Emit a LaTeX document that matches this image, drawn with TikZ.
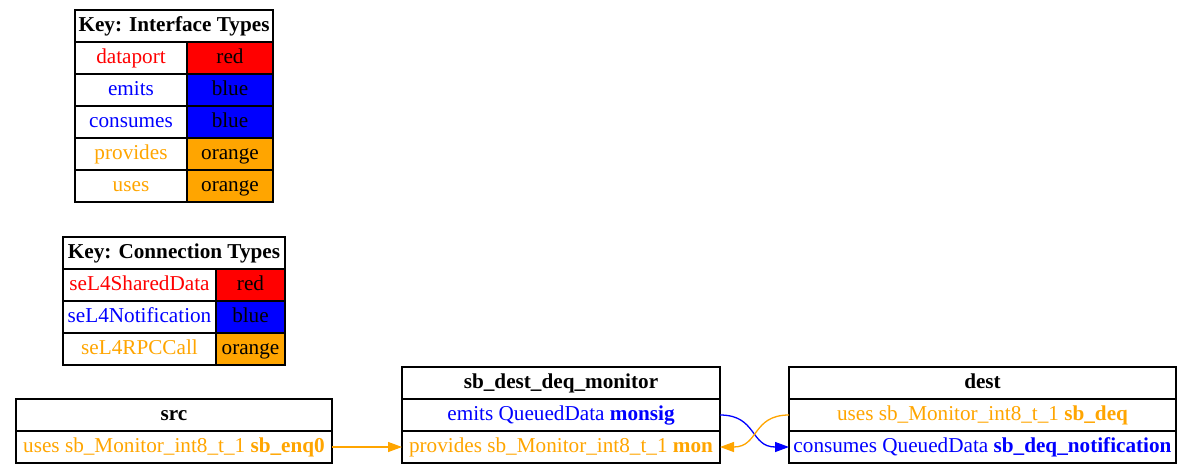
\documentclass[tikz,border=0pt]{standalone}
\usepackage{fontspec}
\setmainfont{Liberation Serif}
\usetikzlibrary{arrows.meta}
\definecolor{gvorange}{HTML}{FFA500}
\definecolor{gvblue}{HTML}{0000FF}
\definecolor{gvred}{HTML}{FF0000}
\tikzset{
  cell/.style={draw=black, line width=1.2pt, inner sep=0pt, outer sep=0pt,
    anchor=north west, text height=14.5pt, text depth=4.5pt,
    font=\fontsize{21.2}{24}\selectfont},
  hdr/.style={cell, font=\fontsize{21.2}{24}\selectfont\bfseries},
  oedge/.style={draw=gvorange, line width=1.3pt, -{Triangle[length=14pt,width=10pt]}},
  bedge/.style={draw=gvblue, line width=1.3pt, -{Triangle[length=14pt,width=10pt]}},
}
\begin{document}
\begin{tikzpicture}[x=1pt,y=-1pt]
\useasboundingbox (0,0) rectangle (1195,475);
% Key: Interface Types
\node[hdr, minimum width=198pt, minimum height=32pt] (k1h) at (75,10) {Key: Interface Types};
\node[cell, minimum width=112pt, minimum height=32pt, text=gvred] (k1a) at (75,42) {dataport};
\node[cell, minimum width=86pt, minimum height=32pt, fill=gvred] (k1ac) at (187,42) {red};
\node[cell, minimum width=112pt, minimum height=32pt, text=gvblue] (k1b) at (75,74) {emits};
\node[cell, minimum width=86pt, minimum height=32pt, fill=gvblue] (k1bc) at (187,74) {blue};
\node[cell, minimum width=112pt, minimum height=32pt, text=gvblue] (k1c) at (75,106) {consumes};
\node[cell, minimum width=86pt, minimum height=32pt, fill=gvblue] (k1cc) at (187,106) {blue};
\node[cell, minimum width=112pt, minimum height=32pt, text=gvorange] (k1d) at (75,138) {provides};
\node[cell, minimum width=86pt, minimum height=32pt, fill=gvorange] (k1dc) at (187,138) {orange};
\node[cell, minimum width=112pt, minimum height=32pt, text=gvorange] (k1e) at (75,170) {uses};
\node[cell, minimum width=86pt, minimum height=32pt, fill=gvorange] (k1ec) at (187,170) {orange};
% Key: Connection Types
\node[hdr, minimum width=222pt, minimum height=32pt] (k2h) at (63,237) {Key: Connection Types};
\node[cell, minimum width=153pt, minimum height=32pt, text=gvred] (k2a) at (63,269) {seL4SharedData};
\node[cell, minimum width=69pt, minimum height=32pt, fill=gvred] (k2ac) at (216,269) {red};
\node[cell, minimum width=153pt, minimum height=32pt, text=gvblue] (k2b) at (63,301) {seL4Notification};
\node[cell, minimum width=69pt, minimum height=32pt, fill=gvblue] (k2bc) at (216,301) {blue};
\node[cell, minimum width=153pt, minimum height=32pt, text=gvorange] (k2c) at (63,333) {seL4RPCCall};
\node[cell, minimum width=69pt, minimum height=32pt, fill=gvorange] (k2cc) at (216,333) {orange};
% src
\node[hdr, minimum width=316pt, minimum height=32pt] (srch) at (16,399) {src};
\node[cell, minimum width=316pt, minimum height=32pt, text=gvorange] (srcenq) at (16,431) {uses sb\_Monitor\_int8\_t\_1 \textbf{sb\_enq0}};
% monitor
\node[hdr, minimum width=318pt, minimum height=32pt] (monh) at (402,367) {sb\_dest\_deq\_monitor};
\node[cell, minimum width=318pt, minimum height=32pt, text=gvblue] (monsig) at (402,399) {emits QueuedData \textbf{monsig}};
\node[cell, minimum width=318pt, minimum height=32pt, text=gvorange] (monmon) at (402,431) {provides sb\_Monitor\_int8\_t\_1 \textbf{mon}};
% dest
\node[hdr, minimum width=387pt, minimum height=32pt] (desth) at (789,367) {dest};
\node[cell, minimum width=387pt, minimum height=32pt, text=gvorange] (destdeq) at (789,399) {uses sb\_Monitor\_int8\_t\_1 \textbf{sb\_deq}};
\node[cell, minimum width=387pt, minimum height=32pt, text=gvblue] (destnot) at (789,431) {consumes QueuedData \textbf{sb\_deq\_notification}};
% edges
\draw[oedge] (srcenq.east) -- (monmon.west);
\draw[bedge] (monsig.east) .. controls (757,415) and (750,447) .. (destnot.west);
\draw[oedge] (destdeq.west) .. controls (752,415) and (759,447) .. (monmon.east);
\end{tikzpicture}
\end{document}
